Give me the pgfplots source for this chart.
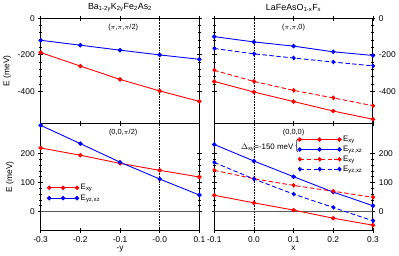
\documentclass[border=0pt]{standalone}
\usepackage{fontspec}
\setmainfont{Liberation Sans}
\usepackage{graphicx}
\usepackage{pgfplots}
\pgfplotsset{compat=1.18}
\tikzset{
  dsh/.style={dash pattern=on 4.5bp off 2.5bp},
  plab/.style={font=\fontsize{7.5}{9}\selectfont},
}
\begin{document}
\begin{tikzpicture}
\pgfplotsset{
  panel/.style={
    scale only axis, width=160bp,
    axis line style={line width=0.9pt},
    tick align=center, major tick length=5bp, minor tick length=3bp,
    every tick/.style={black, line width=0.7pt},
    minor y tick num=4,
    xtick pos=both, ytick pos=both,
    /pgf/number format/assume math mode=true,
    tick label style={font=\fontsize{8.5}{10}\selectfont},
    label style={font=\fontsize{8.5}{10}\selectfont},
    title style={font=\fontsize{9}{10.8}\selectfont, yshift=-3bp},
    clip=false,
    every axis plot/.append style={line width=0.9pt, mark=*, mark size=1.8pt},
  },
  leg3/.style={legend image code/.code={\draw[mark repeat=1,mark phase=1,##1] plot coordinates {(0bp,0bp) (#1,0bp) (2*#1,0bp)};}},
}
% top-left
\begin{axis}[panel, at={(40bp,-121bp)}, anchor=south west, height=106bp,
  xmin=-0.3, xmax=0.1, ymin=-575, ymax=0,
  xtick={-0.3,-0.2,-0.1,0,0.1}, xticklabels={},
  ytick={0,-200,-400}, ylabel={E (meV)},
  title={Ba\textsubscript{1-2y}K\textsubscript{2y}Fe\textsubscript{2}As\textsubscript{2}}]
\draw[densely dotted, line width=0.6pt] ({axis cs:0,0}|-{rel axis cs:0,0}) -- ({axis cs:0,0}|-{rel axis cs:0,1});
\addplot[blue] coordinates {(-0.3,-121)(-0.2,-148)(-0.1,-175)(0,-201)(0.1,-225)};
\addplot[red] coordinates {(-0.3,-188)(-0.2,-262)(-0.1,-335)(0,-398)(0.1,-455)};
\node[plab] at (rel axis cs:0.52,0.915) {($\pi$,$\pi$,$\pi$/2)};
\end{axis}
% bottom-left
\begin{axis}[panel, at={(40bp,-121bp)}, anchor=north west, height=108bp,
  xmin=-0.3, xmax=0.1, ymin=-65, ymax=304,
  xtick={-0.3,-0.2,-0.1,0,0.1}, xticklabels={-0.3,-0.2,-0.1,-0.0,0.1},
  ytick={0,100,200}, ylabel={E (meV)}, xlabel={-y},
  xlabel style={yshift=3bp},
  leg3=14bp,
  legend style={at={(rel axis cs:0.035,0.46)}, anchor=north west, draw=none, fill=none,
    inner sep=1bp, row sep=-0.5bp, font=\fontsize{8}{9}\selectfont},
  legend cell align=left]
\draw[densely dotted, line width=0.6pt] ({axis cs:0,0}|-{rel axis cs:0,0}) -- ({axis cs:0,0}|-{rel axis cs:0,1});
\draw[gray!70!black, line width=0.7pt] ({rel axis cs:0,0}|-{axis cs:0,0}) -- ({rel axis cs:1,0}|-{axis cs:0,0});
\addplot[red] coordinates {(-0.3,219)(-0.2,194)(-0.1,166)(0,142)(0.1,119)};
\addlegendentry{E\textsubscript{xy}}
\addplot[blue] coordinates {(-0.3,297)(-0.2,234)(-0.1,170)(0,112)(0.1,57)};
\addlegendentry{E\textsubscript{yz,xz}}
\node[plab] at (rel axis cs:0.52,0.917) {(0,0,$\pi$/2)};
\end{axis}
% top-right
\begin{axis}[panel, at={(215bp,-121bp)}, anchor=south west, height=106bp,
  xmin=-0.1, xmax=0.3, ymin=-575, ymax=0,
  xtick={-0.1,0,0.1,0.2,0.3}, xticklabels={},
  ytick={0,-200,-400}, yticklabel pos=right,
  title={LaFeAsO\textsubscript{1-x}F\textsubscript{x}}]
\draw[densely dotted, line width=0.6pt] ({axis cs:0,0}|-{rel axis cs:0,0}) -- ({axis cs:0,0}|-{rel axis cs:0,1});
\addplot[blue] coordinates {(-0.1,-101)(0,-130)(0.1,-153)(0.2,-184)(0.3,-204)};
\addplot[blue, dsh] coordinates {(-0.1,-166)(0,-195)(0.1,-218)(0.2,-240)(0.3,-261)};
\addplot[red, dsh] coordinates {(-0.1,-285)(0,-346)(0.1,-395)(0.2,-436)(0.3,-479)};
\addplot[red] coordinates {(-0.1,-346)(0,-404)(0.1,-456)(0.2,-508)(0.3,-553)};
\node[plab] at (rel axis cs:0.5,0.915) {($\pi$,$\pi$,0)};
\end{axis}
% bottom-right
\begin{axis}[panel, at={(215bp,-121bp)}, anchor=north west, height=108bp,
  xmin=-0.1, xmax=0.3, ymin=-65, ymax=304,
  xtick={-0.1,0,0.1,0.2,0.3}, xticklabels={-0.1,0.0,0.1,0.2,0.3},
  ytick={0,100,200}, yticklabel pos=right, xlabel={x},
  xlabel style={yshift=3bp},
  leg3=20bp,
  legend style={at={(rel axis cs:0.52,0.91)}, anchor=north west, draw=none, fill=none,
    inner sep=1bp, row sep=-1bp, font=\fontsize{8}{9}\selectfont},
  legend cell align=left]
\draw[densely dotted, line width=0.6pt] ({axis cs:0,0}|-{rel axis cs:0,0}) -- ({axis cs:0,0}|-{rel axis cs:0,1});
\draw[gray!70!black, line width=0.7pt] ({rel axis cs:0,0}|-{axis cs:0,0}) -- ({rel axis cs:1,0}|-{axis cs:0,0});
\addplot[red] coordinates {(-0.1,56)(0,30)(0.1,5)(0.2,-23)(0.3,-47)};
\addlegendentry{E\textsubscript{xy}}
\addplot[blue] coordinates {(-0.1,231)(0,174)(0.1,120)(0.2,67)(0.3,20)};
\addlegendentry{E\textsubscript{yz,xz}}
\addplot[red, dsh] coordinates {(-0.1,142)(0,113)(0.1,90)(0.2,70)(0.3,49)};
\addlegendentry{E\textsubscript{xy}}
\addplot[blue, dsh] coordinates {(-0.1,169)(0,112)(0.1,60)(0.2,14)(0.3,-32)};
\addlegendentry{E\textsubscript{yz,xz}}
\node[plab] at (rel axis cs:0.5,0.917) {(0,0,0)};
\node[anchor=east, font=\fontsize{8}{9}\selectfont, inner sep=0pt] at (rel axis cs:0.53,0.785) {$\Delta$\textsubscript{xy}=-150 meV \scalebox{1}[1.7]{\{}};
\end{axis}
\end{tikzpicture}
\end{document}
